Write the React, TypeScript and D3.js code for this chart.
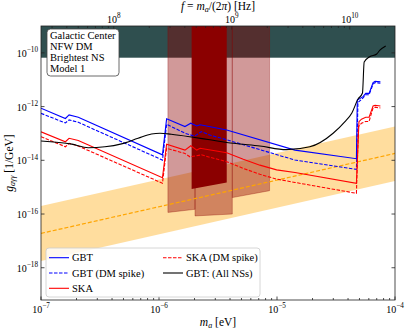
import React, { useEffect, useRef } from 'react';
import * as d3 from 'd3';

const W = 407;
const H = 331;
const margin = { top: 26, right: 12, bottom: 31, left: 41 };

// axis ranges
const massDomain = [1e-7, 1e-4];
const couplingDomain = [6.3e-20, 1e-9];
const hzPerEV = 2.418e14;
const yTickValues = [1e-18, 1e-16, 1e-14, 1e-12, 1e-10];

// CAST bound (top band)
const castBound = 6.6e-11;

// QCD axion band
const qcdMass = [1e-7, 1e-4];
const qcdCenter = [1.9e-17, 1.8e-14];
const qcdUpper = [2.0e-16, 1.8e-13];
const qcdLower = [1.8e-18, 1.7e-15];

// GBT
const gbtMass = [1.0e-7, 1.61e-7, 1.73e-7, 2.07e-7, 1.07e-6, 1.16e-6, 1.66e-6, 1.86e-6, 2.09e-6, 2.23e-6, 3.75e-6, 1.42e-5, 4.71e-5, 4.79e-5, 5.36e-5, 5.65e-5, 6.03e-5, 6.52e-5, 6.78e-5, 7.52e-5];
const gbtG = [8.7e-13, 3.6e-13, 4.9e-13, 4.0e-13, 1.6e-14, 3.5e-13, 1.8e-13, 2.4e-13, 1.9e-13, 2.1e-13, 1.35e-13, 2.4e-14, 1.15e-14, 1.76e-12, 2.34e-12, 3.1e-12, 3.1e-12, 7.8e-12, 8.7e-12, 8.3e-12];

// GBT (DM spike)
const gbtSpikeMass = [1.0e-7, 1.61e-7, 1.73e-7, 2.07e-7, 1.07e-6, 1.16e-6, 1.66e-6, 2.0e-6, 2.29e-6, 2.7e-6, 3.75e-6, 1.42e-5, 4.71e-5, 4.85e-5, 5.36e-5, 5.65e-5, 6.03e-5, 6.52e-5, 6.78e-5, 7.52e-5];
const gbtSpikeG = [5.6e-13, 2.45e-13, 3.2e-13, 2.6e-13, 1.02e-14, 2.2e-13, 1.02e-13, 7.9e-14, 1.17e-13, 8.7e-14, 5.8e-14, 1.02e-14, 4.6e-15, 1.4e-12, 2.1e-12, 2.75e-12, 2.75e-12, 6.9e-12, 7.8e-12, 7.4e-12];

// SKA
const skaMass = [1.0e-7, 1.61e-7, 1.73e-7, 2.07e-7, 1.07e-6, 1.16e-6, 1.66e-6, 1.86e-6, 2.09e-6, 2.23e-6, 3.75e-6, 5.18e-6, 7.16e-6, 9.93e-6, 1.42e-5, 4.71e-5, 4.95e-5, 5.2e-5, 5.65e-5, 6.03e-5, 6.31e-5, 6.52e-5, 6.78e-5, 7.52e-5];
const skaG = [1.15e-13, 4.9e-14, 6.6e-14, 5.5e-14, 2.24e-15, 4.0e-14, 2.4e-14, 3.5e-14, 2.4e-14, 2.8e-14, 1.9e-14, 1.1e-14, 6.6e-15, 4.4e-15, 3.5e-15, 1.4e-15, 2.75e-13, 3.4e-13, 4.0e-13, 4.0e-13, 7.1e-13, 1.05e-12, 1.12e-12, 1.05e-12];

// SKA (DM spike)
const skaSpikeMass = [1.0e-7, 1.61e-7, 1.73e-7, 2.07e-7, 1.07e-6, 1.16e-6, 1.66e-6, 1.83e-6, 2.29e-6, 2.7e-6, 3.75e-6, 5.18e-6, 7.16e-6, 9.93e-6, 1.42e-5, 4.71e-5, 4.9e-5, 5.2e-5, 5.65e-5, 6.03e-5, 6.31e-5, 6.52e-5, 6.78e-5, 7.52e-5];
const skaSpikeG = [7.6e-14, 3.2e-14, 4.3e-14, 3.4e-14, 1.4e-15, 2.8e-14, 1.8e-14, 1.35e-14, 1.6e-14, 1.3e-14, 8.9e-15, 5.0e-15, 3.0e-15, 2.0e-15, 1.5e-15, 5.9e-16, 1.8e-13, 2.4e-13, 2.8e-13, 2.8e-13, 5.6e-13, 8.9e-13, 9.5e-13, 8.9e-13];

// GBT: all NSs
const allNsMass = [1.0e-7, 1.82e-7, 2.51e-7, 3.48e-7, 4.81e-7, 6.65e-7, 8.63e-7, 1.02e-6, 1.27e-6, 1.95e-6, 2.7e-6, 4.26e-6, 7.16e-6, 1.2e-5, 1.9e-5, 2.99e-5, 3.75e-5, 4.31e-5, 4.86e-5, 5.3e-5, 5.48e-5, 6.1e-5, 7.0e-5, 7.41e-5, 8.34e-5];
const allNsG = [5.2e-14, 4.0e-14, 2.95e-14, 3.2e-14, 4.1e-14, 6.6e-14, 9.5e-14, 1.02e-13, 9.3e-14, 7.2e-14, 5.8e-14, 4.3e-14, 3.4e-14, 2.5e-14, 3.2e-14, 1.02e-13, 2.7e-13, 5.8e-13, 1.9e-12, 3.2e-12, 4.6e-11, 7.2e-11, 9.1e-11, 1.23e-10, 1.8e-10];

// red excluded regions: [mass lo, mass hi], lower coupling at each edge
const regionMassLo = [1.19e-6, 2.02e-6, 4.18e-6];
const regionMassHi = [2.02e-6, 4.18e-6, 8.65e-6];
const regionFloorLo = [1.15e-16, 8.5e-17, 4.1e-16];
const regionFloorHi = [1.5e-16, 1.0e-16, 7.4e-16];
const strongMass = [1.89e-6, 3.75e-6];
const strongFloor = [8.5e-16, 1.5e-15];

const legendLabels = ['GBT', 'GBT (DM spike)', 'SKA', 'SKA (DM spike)', 'GBT: (All NSs)'];
const boxLines = ['Galactic Center', 'NFW DM', 'Brightest NS', 'Model 1'];

const zip = (a: number[], b: number[]) => a.map((v, i) => [v, b[i]] as [number, number]);

const App = () => {
  const ref = useRef<SVGSVGElement>(null);

  useEffect(() => {
    const svg = d3.select(ref.current);
    svg.selectAll('*').remove();

    const x0 = margin.left, x1 = W - margin.right;
    const y0 = H - margin.bottom, y1 = margin.top;
    const x = d3.scaleLog().domain(massDomain).range([x0, x1]);
    const y = d3.scaleLog().domain(couplingDomain).range([y0, y1]);
    const xf = d3.scaleLog().domain(massDomain.map(m => m * hzPerEV)).range([x0, x1]);

    svg.append('defs').append('clipPath').attr('id', 'plotclip')
      .append('rect').attr('x', x0).attr('y', y1).attr('width', x1 - x0).attr('height', y0 - y1);

    const g = svg.append('g').attr('clip-path', 'url(#plotclip)');

    // CAST
    g.append('rect')
      .attr('x', x0).attr('y', y1)
      .attr('width', x1 - x0).attr('height', y(castBound) - y1)
      .attr('fill', '#2f4f4f');

    // QCD band
    const area = d3.area<number>()
      .x((_, i) => x(qcdMass[i]))
      .y0((_, i) => y(qcdLower[i]))
      .y1((_, i) => y(qcdUpper[i]));
    g.append('path').attr('d', area(qcdMass) as string)
      .attr('fill', 'orange').attr('fill-opacity', 0.38);

    // red regions
    const poly = d3.line<[number, number]>().x(d => x(d[0])).y(d => y(d[1]));
    const top = couplingDomain[1] * 10;
    regionMassLo.forEach((lo, i) => {
      const pts: [number, number][] = [[lo, top], [lo, regionFloorLo[i]], [regionMassHi[i], regionFloorHi[i]], [regionMassHi[i], top]];
      g.append('path').attr('d', poly(pts) + 'Z')
        .attr('fill', 'darkred').attr('fill-opacity', 0.4)
        .attr('stroke', 'darkred').attr('stroke-opacity', 0.4).attr('stroke-width', 0.8);
    });
    const sp: [number, number][] = [[strongMass[0], top], [strongMass[0], strongFloor[0]], [strongMass[1], strongFloor[1]], [strongMass[1], top]];
    g.append('path').attr('d', poly(sp) + 'Z').attr('fill', 'darkred');

    // QCD line
    g.append('path').attr('d', poly(zip(qcdMass, qcdCenter)) as string)
      .attr('fill', 'none').attr('stroke', 'orange').attr('stroke-width', 1.2)
      .attr('stroke-dasharray', '4,2');

    const series = [
      { pts: zip(gbtMass, gbtG), color: '#0000ff', dash: null },
      { pts: zip(gbtSpikeMass, gbtSpikeG), color: '#0000ff', dash: '3.5,1.5' },
      { pts: zip(skaMass, skaG), color: '#ff0000', dash: null },
      { pts: zip(skaSpikeMass, skaSpikeG), color: '#ff0000', dash: '3.5,1.5' },
    ];
    series.forEach(s => {
      g.append('path').attr('d', poly(s.pts) as string)
        .attr('fill', 'none').attr('stroke', s.color).attr('stroke-width', 1.1)
        .attr('stroke-dasharray', s.dash);
    });

    const smooth = d3.line<[number, number]>().x(d => x(d[0])).y(d => y(d[1])).curve(d3.curveMonotoneX);
    g.append('path').attr('d', smooth(zip(allNsMass, allNsG)) as string)
      .attr('fill', 'none').attr('stroke', '#000').attr('stroke-width', 1.1);

    // frame
    svg.append('rect').attr('x', x0).attr('y', y1).attr('width', x1 - x0).attr('height', y0 - y1)
      .attr('fill', 'none').attr('stroke', '#222').attr('stroke-width', 0.8);

    const ticks = svg.append('g').attr('stroke', '#222').attr('stroke-width', 0.8);
    const isMajor = (v: number) => Math.abs(Math.log10(v) - Math.round(Math.log10(v))) < 1e-6;

    const sup = (sel: d3.Selection<SVGTextElement, unknown, null, undefined>, exp: string) => {
      sel.append('tspan').text('10');
      sel.append('tspan').attr('dy', -4.5).attr('font-size', 7.2).text(exp);
    };

    // bottom
    x.ticks().forEach(v => {
      const len = isMajor(v) ? 3.5 : 2;
      ticks.append('line').attr('x1', x(v)).attr('x2', x(v)).attr('y1', y0).attr('y2', y0 - len);
      if (isMajor(v)) {
        const t = svg.append('text').attr('x', x(v)).attr('y', y0 + 12.5).attr('text-anchor', 'middle').attr('font-size', 10);
        sup(t, '\u2212' + Math.abs(Math.round(Math.log10(v))));
      }
    });
    // top
    xf.ticks().forEach(v => {
      const len = isMajor(v) ? 3.5 : 2;
      ticks.append('line').attr('x1', xf(v)).attr('x2', xf(v)).attr('y1', y1).attr('y2', y1 + len);
      if (isMajor(v)) {
        const t = svg.append('text').attr('x', xf(v)).attr('y', y1 - 3.5).attr('text-anchor', 'middle').attr('font-size', 10);
        sup(t, String(Math.round(Math.log10(v))));
      }
    });
    // left/right
    yTickValues.forEach(v => {
      ticks.append('line').attr('x1', x0).attr('x2', x0 + 3.5).attr('y1', y(v)).attr('y2', y(v));
      ticks.append('line').attr('x1', x1).attr('x2', x1 - 3.5).attr('y1', y(v)).attr('y2', y(v));
      const t = svg.append('text').attr('x', x0 - 3).attr('y', y(v) + 4).attr('text-anchor', 'end').attr('font-size', 10);
      sup(t, '\u2212' + Math.abs(Math.round(Math.log10(v))));
    });

    // axis labels
    const xl = svg.append('text').attr('x', (x0 + x1) / 2).attr('y', H - 5).attr('text-anchor', 'middle').attr('font-size', 11.5);
    xl.append('tspan').attr('font-style', 'italic').text('m');
    xl.append('tspan').attr('font-style', 'italic').attr('font-size', 8).attr('dy', 2).text('a');
    xl.append('tspan').attr('dy', -2).text(' [eV]');

    const tl = svg.append('text').attr('x', (x0 + x1) / 2).attr('y', 10).attr('text-anchor', 'middle').attr('font-size', 11.5);
    tl.append('tspan').attr('font-style', 'italic').text('f');
    tl.append('tspan').text(' = ');
    tl.append('tspan').attr('font-style', 'italic').text('m');
    tl.append('tspan').attr('font-style', 'italic').attr('font-size', 8).attr('dy', 2).text('a');
    tl.append('tspan').attr('dy', -2).text('/(2');
    tl.append('tspan').attr('font-style', 'italic').text('\u03c0');
    tl.append('tspan').text(') [Hz]');

    const yl = svg.append('text').attr('transform', `translate(13,${(y0 + y1) / 2}) rotate(-90)`)
      .attr('text-anchor', 'middle').attr('font-size', 11.5);
    yl.append('tspan').attr('font-style', 'italic').text('g');
    yl.append('tspan').attr('font-style', 'italic').attr('font-size', 8).attr('dy', 2).text('a\u03b3\u03b3');
    yl.append('tspan').attr('dy', -2).text(' [1/GeV]');

    // info box
    svg.append('rect').attr('x', 47).attr('y', 29).attr('width', 72).attr('height', 47).attr('rx', 3.5)
      .attr('fill', 'white').attr('stroke', '#444').attr('stroke-width', 0.8);
    boxLines.forEach((l, i) => {
      svg.append('text').attr('x', 50).attr('y', 39 + i * 11).attr('font-size', 10.5).text(l);
    });

    // legend
    svg.append('rect').attr('x', 46).attr('y', 248).attr('width', 214).attr('height', 49).attr('rx', 3)
      .attr('fill', 'white').attr('fill-opacity', 0.8).attr('stroke', '#ccc').attr('stroke-width', 0.8);
    const legendStyle = [
      { color: '#0000ff', dash: null },
      { color: '#0000ff', dash: '3.5,1.5' },
      { color: '#ff0000', dash: null },
      { color: '#ff0000', dash: '3.5,1.5' },
      { color: '#000', dash: null },
    ];
    legendLabels.forEach((lab, i) => {
      const col = i < 3 ? 0 : 1;
      const row = i < 3 ? i : i - 3;
      const lx = col === 0 ? 49 : 163;
      const ly = 257.7 + row * 15.3;
      svg.append('line').attr('x1', lx).attr('x2', lx + 20).attr('y1', ly).attr('y2', ly)
        .attr('stroke', legendStyle[i].color).attr('stroke-width', 1.1)
        .attr('stroke-dasharray', legendStyle[i].dash);
      svg.append('text').attr('x', lx + 23).attr('y', ly + 3.5).attr('font-size', 10.5).text(lab);
    });
  }, []);

  return (
    <svg ref={ref} width={W} height={H}
      style={{ position: 'absolute', left: 0, top: 0, background: 'white', fontFamily: '"Liberation Serif", "Times New Roman", serif' }} />
  );
};

export default App;
